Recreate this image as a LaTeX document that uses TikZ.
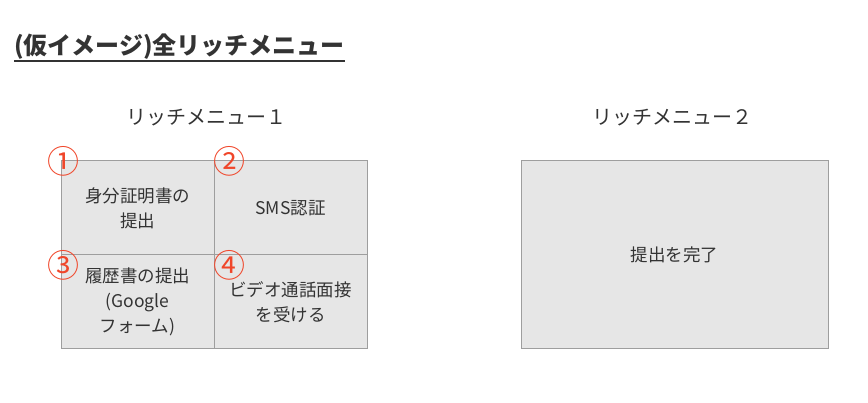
\documentclass[tikz,border=0pt]{standalone}
\usepackage{fontspec}
\setmainfont{Noto Sans CJK JP}
\usetikzlibrary{positioning}
\definecolor{boxfill}{HTML}{E6E6E6}
\definecolor{boxline}{HTML}{9E9E9E}
\definecolor{txt}{HTML}{333333}
\definecolor{numred}{HTML}{F0462A}
\begin{document}
\begin{tikzpicture}[x=1pt,y=-1pt,
  cell/.style={draw=boxline,fill=boxfill,line width=1pt,inner sep=0pt,text=txt,align=center,font=\fontsize{17.5}{25}\selectfont},
  numlab/.style={text=numred,font=\fontsize{32}{32}\selectfont,inner sep=0pt},
  menulab/.style={text=txt,font=\fontsize{20}{22}\selectfont,inner sep=0pt}]
\useasboundingbox (0,0) rectangle (868,403);
\node[anchor=west,inner sep=0pt,text=txt,font=\bfseries\fontsize{24}{26}\selectfont] (title) at (14,47) {(仮イメージ)全リッチメニュー};
\draw[txt,line width=1.5pt] ([yshift=-1pt]title.south west) -- ([yshift=-1pt]title.south east);
\node[menulab] (m1) at (206,118) {リッチメニュー１};
\node[menulab] (m2) at (672,118) {リッチメニュー２};
\node[cell,minimum width=153pt,minimum height=94pt] (c1) at (137.5,208) {身分証明書の\\提出};
\node[cell,minimum width=153pt,minimum height=94pt] (c2) at (290.5,208) {SMS認証};
\node[cell,minimum width=153pt,minimum height=94pt] (c3) at (137.5,302) {履歴書の提出\\(Google\\フォーム)};
\node[cell,minimum width=153pt,minimum height=94pt] (c4) at (290.5,302) {ビデオ通話面接\\を受ける};
\node[cell,minimum width=307pt,minimum height=188pt] (r) at (674.5,255) {提出を完了};
\node[numlab] (n1) at (63,161) {①};
\node[numlab] (n2) at (229,161) {②};
\node[numlab] (n3) at (63,265) {③};
\node[numlab] (n4) at (229,265) {④};
\end{tikzpicture}
\end{document}
